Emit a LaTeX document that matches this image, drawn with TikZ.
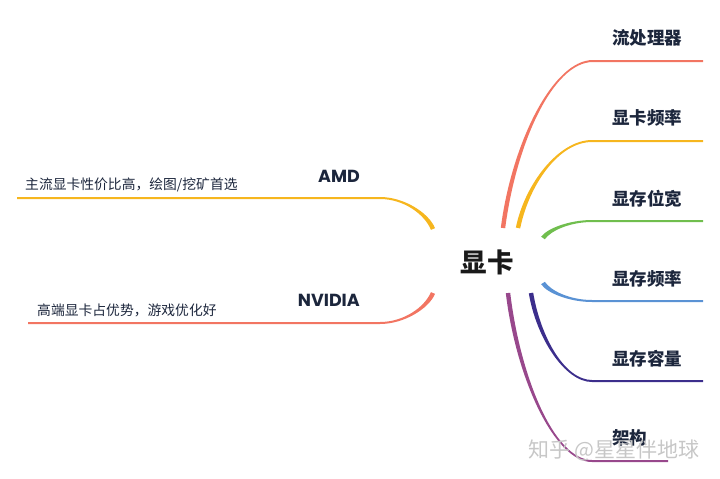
\documentclass[tikz,border=0pt]{standalone}
\usepackage{fontspec}
\usetikzlibrary{calc}
\newfontfamily\cjk{Noto Sans CJK SC}
\newfontfamily\brandfont{Poppins}
\definecolor{labelnavy}{RGB}{28,38,60}
\definecolor{limbred}{RGB}{242,117,98}
\definecolor{limbyellow}{RGB}{246,182,30}
\definecolor{limbgreen}{RGB}{112,190,78}
\definecolor{limbblue}{RGB}{90,146,212}
\definecolor{limbindigo}{RGB}{60,46,140}
\definecolor{limbpurple}{RGB}{152,72,140}
\tikzset{leaf/.style={font=\cjk\bfseries\fontsize{17.5}{20}\selectfont,text=labelnavy,inner sep=0pt,anchor=west},
 brand/.style={font=\brandfont\bfseries\fontsize{17.5}{20}\selectfont,text=labelnavy,inner sep=0pt,anchor=east},
 remark/.style={font=\cjk\fontsize{13.8}{16}\selectfont,text=labelnavy,inner sep=0pt,anchor=west},
 stamp/.style={font=\cjk\fontsize{21}{24}\selectfont,text=black!22,inner sep=0pt}}
% tapered branch: root (name-s), bend (name-c), end of underline (name-e)
\newcommand{\limb}[2]{%
 \fill[#1] let \p1=(#2-s), \p2=(#2-c), \p3=(#2-e),
  \p4=({\x1+0.12*(\x2-\x1)},{\y1+0.5*(\y2-\y1)}),
  \p5=({\x2-0.45*(\x2-\x1)},{\y2}),
  \n1={veclen(\x4-\x1,\y4-\y1)}, \n2={(\x2-\x1)/abs(\x2-\x1)},
  \p6=({-2.2*(\y4-\y1)/\n1},{2.2*(\x4-\x1)/\n1})
 in ($(\p1)+(\p6)$) .. controls ($(\p4)+(\p6)$) and ({\x5},{\y5+\n2*1pt}) .. ({\x2},{\y2+\n2*1pt})
  -- ({\x3},{\y3+\n2*1pt}) -- ({\x3},{\y3-\n2*1pt}) -- ({\x2},{\y2-\n2*1pt})
  .. controls ({\x5},{\y5-\n2*1pt}) and ($(\p4)-(\p6)$) .. ($(\p1)-(\p6)$) -- cycle;}

\begin{document}
\begin{tikzpicture}[x=1pt,y=-1pt]
\useasboundingbox (0,0) rectangle (720,479);
\node[font=\cjk\bfseries\fontsize{26.5}{30}\selectfont,text=black!90,inner sep=0pt] (gpu) at (487,262) {显卡};

% right side
\coordinate (sp-s) at (503,228); \coordinate (sp-c) at (593,61); \coordinate (sp-e) at (703,61);
\coordinate (fr-s) at (518,228); \coordinate (fr-c) at (592,141); \coordinate (fr-e) at (703,141);
\coordinate (bw-s) at (543,238); \coordinate (bw-c) at (592,221); \coordinate (bw-e) at (703,221);
\coordinate (mf-s) at (543,283); \coordinate (mf-c) at (592,301); \coordinate (mf-e) at (703,301);
\coordinate (vc-s) at (531,293); \coordinate (vc-c) at (592,381); \coordinate (vc-e) at (703,381);
\coordinate (ar-s) at (508,293); \coordinate (ar-c) at (592,461); \coordinate (ar-e) at (668,461);
\limb{limbred}{sp}
\limb{limbyellow}{fr}
\limb{limbgreen}{bw}
\limb{limbblue}{mf}
\limb{limbindigo}{vc}
\limb{limbpurple}{ar}
\node[leaf] (sp) at (612,37.5) {流处理器};
\node[leaf] (fr) at (612,118) {显卡频率};
\node[leaf] (bw) at (612,198.5) {显存位宽};
\node[leaf] (mf) at (612,279) {显存频率};
\node[leaf] (vc) at (612,358.5) {显存容量};
\node[leaf] (ar) at (612,438) {架构};

% left side
\coordinate (amd-s) at (433,229); \coordinate (amd-c) at (380,198); \coordinate (amd-e) at (17,198);
\coordinate (nv-s) at (433,293); \coordinate (nv-c) at (380,323); \coordinate (nv-e) at (28,323);
\limb{limbyellow}{amd}
\limb{limbred}{nv}
\node[brand] (amd) at (360,176.5) {AMD};
\node[brand] (nv) at (360,300) {NVIDIA};
\node[remark] (amd-note) at (25,185) {主流显卡性价比高，绘图/挖矿首选};
\node[remark] (nv-note) at (37,310) {高端显卡占优势，游戏优化好};

\node[stamp] (zh) at (614,450) {知乎 @星星伴地球};
\end{tikzpicture}
\end{document}
